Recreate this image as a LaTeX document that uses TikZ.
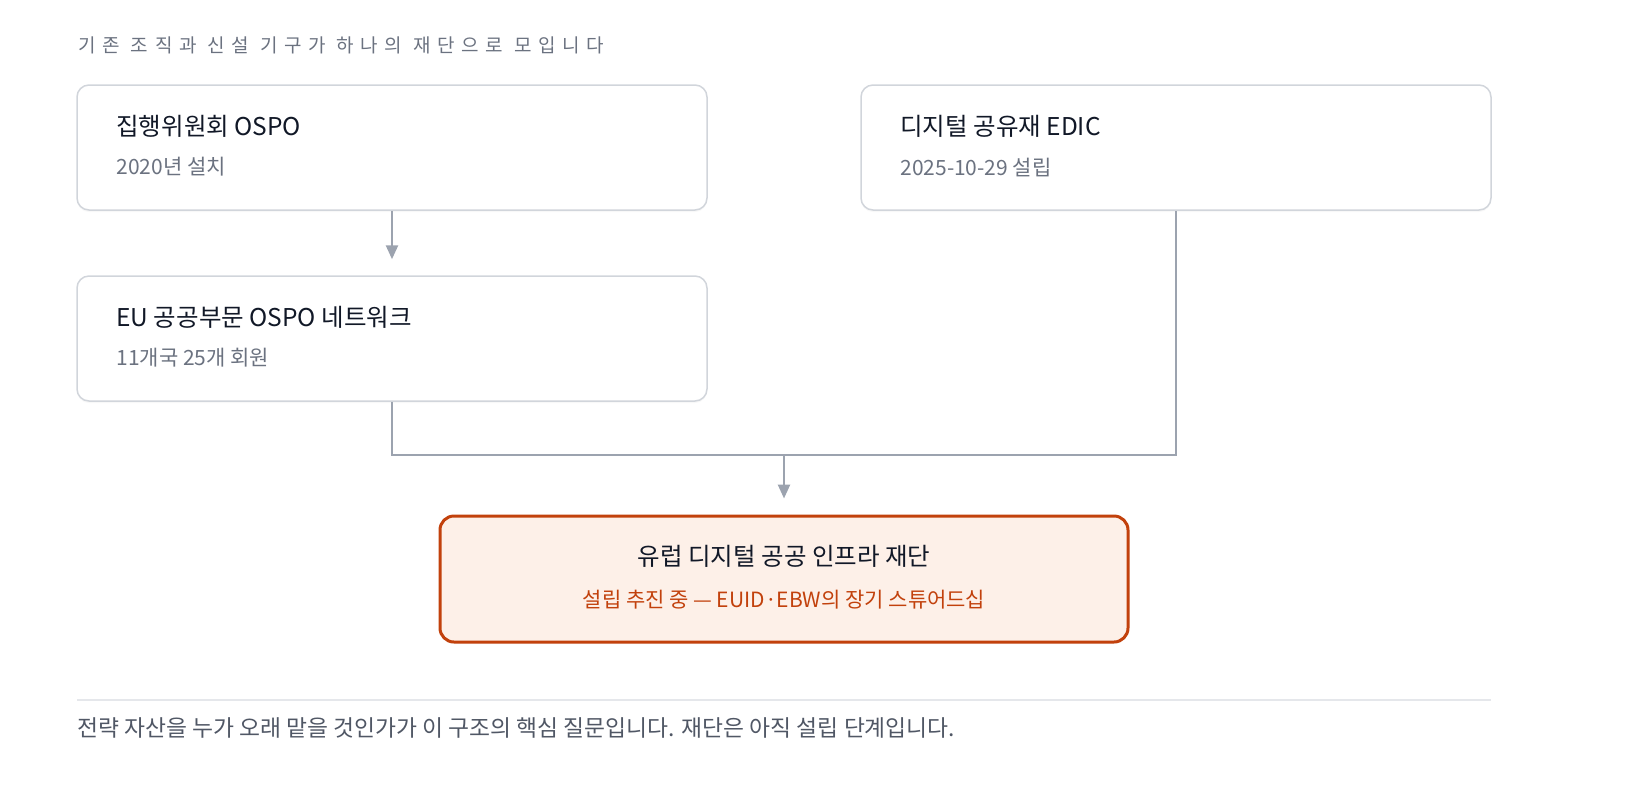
\documentclass[tikz,border=0pt]{standalone}
\usepackage{fontspec}
\setmainfont{Noto Sans CJK KR}
\newfontfamily\headfont[LetterSpace=35]{Noto Sans CJK KR}
\usepackage{xcolor}
\usetikzlibrary{calc,arrows.meta,shadows}

\definecolor{boxline}{HTML}{D1D5DB}
\definecolor{wire}{HTML}{9CA3AF}
\definecolor{ink}{HTML}{111827}
\definecolor{muted}{HTML}{6B7280}
\definecolor{rust}{HTML}{C2410C}
\definecolor{peach}{HTML}{FDF0E8}
\definecolor{rule}{HTML}{E5E7EB}

\tikzset{
  card/.style={draw=boxline, line width=0.75pt, rounded corners=6pt, fill=white,
    minimum width=315pt, minimum height=62.5pt,
    drop shadow={shadow xshift=0pt, shadow yshift=-1pt, opacity=0.06}},
  goal/.style={draw=rust, line width=1.5pt, rounded corners=7pt, fill=peach,
    minimum width=344pt, minimum height=63pt,
    drop shadow={shadow xshift=0pt, shadow yshift=-1pt, opacity=0.06}},
  ttl/.style={inner sep=0pt, text=ink, font=\fontsize{12.25}{14}\selectfont},
  sub/.style={inner sep=0pt, text=muted, font=\fontsize{10.5}{12}\selectfont},
  wireline/.style={draw=wire, line width=1.25pt},
  arr/.style={wireline, -{Triangle[width=6pt,length=7pt]}, shorten >=8pt}
}

\begin{document}
\begin{tikzpicture}[x=0.5pt,y=-0.5pt]
    \useasboundingbox (0,0) rectangle (1640,800);
    % Heading
    \node[inner sep=0pt, anchor=west, text=muted, font=\headfont\fontsize{9.5}{11}\selectfont]
        (head) at (78,45) {기존 조직과 신설 기구가 하나의 재단으로 모입니다};
    % Boxes
    \node[card] (ospo) at (392,147.5) {}; % top left
    \node[card] (edic) at (1176,147.5) {}; % top right
    \node[card] (net)  at (392,338.5) {}; % middle left
    \node[goal] (fund) at (784,579) {}; % bottom centre
    % Texts
    \node[ttl, anchor=west] (ospoT) at (116,126) {집행위원회 OSPO};
    \node[sub, anchor=west] (ospoS) at (116,167) {2020년 설치};
    \node[ttl, anchor=west] (edicT) at (900,126) {디지털 공유재 EDIC};
    \node[sub, anchor=west] (edicS) at (900,167) {2025-10-29 설립};
    \node[ttl, anchor=west] (netT)  at (116,317) {EU 공공부문 OSPO 네트워크};
    \node[sub, anchor=west] (netS)  at (116,358) {11개국 25개 회원};
    \node[ttl] (fundT) at (784,556) {유럽 디지털 공공 인프라 재단};
    \node[sub, text=rust] (fundS) at (784,600) {설립 추진 중 — EUID·EBW의 장기 스튜어드십};
    % Connectors
    \coordinate (join) at (784,455); % meeting point
    \draw[arr] (ospo.south) -- (net.north);
    \draw[wireline] (net.south) |- (join) -| (edic.south);
    \draw[arr] (join) -- (fund.north);
    % Footer
    \coordinate (ruleL) at (77,700);
    \coordinate (ruleR) at (1491,700);
    \draw[rule, line width=0.75pt] (ruleL) -- (ruleR);
    \node[inner sep=0pt, anchor=west, text=muted!70!ink, font=\fontsize{11.4}{13}\selectfont]
        (foot) at (77,728) {전략 자산을 누가 오래 맡을 것인가가 이 구조의 핵심 질문입니다. 재단은 아직 설립 단계입니다.};
\end{tikzpicture}
\end{document}
